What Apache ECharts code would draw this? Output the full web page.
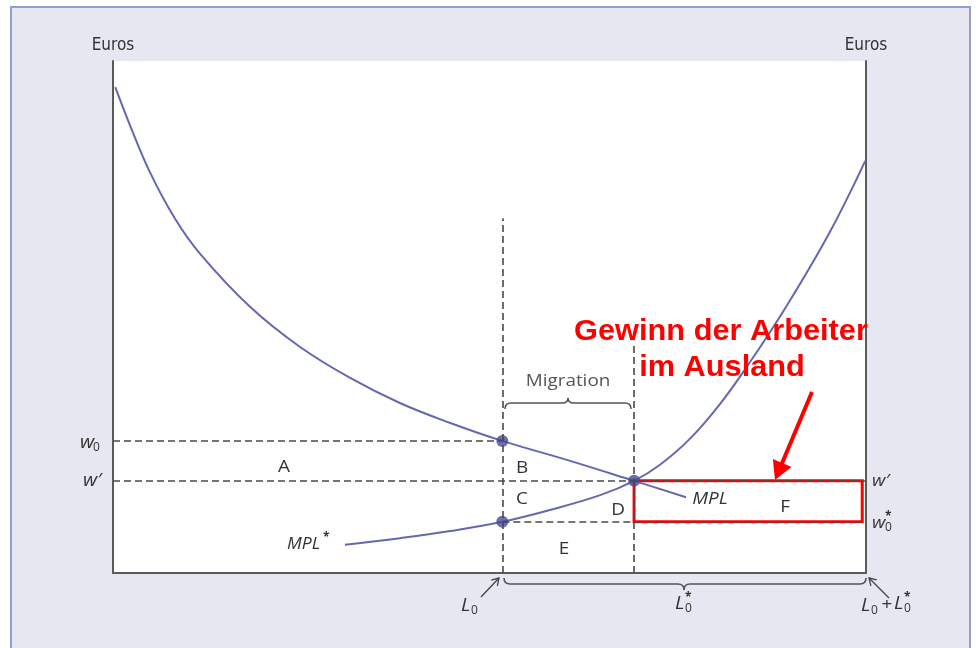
<!DOCTYPE html>
<html>
<head>
<meta charset="utf-8">
<script src="https://cdn.jsdelivr.net/npm/echarts@6/dist/echarts.min.js"></script>
<style>
html,body{margin:0;padding:0;background:#fff;}
#frame{position:absolute;left:10px;top:6px;width:957px;height:700px;background:#e7e7f2;border:2px solid #8f9fd1;}
#main{position:absolute;left:0;top:0;width:980px;height:648px;}
</style>
</head>
<body>
<div id="frame"></div>
<div id="main"></div>
<script>
// 横轴: 0 = 本国原点, 100 = L0 + L0*
var L0 = 51.7, L1 = 69.2;
var w0 = 25.8, wStar = 18.0, w0Foreign = 10.0;
var rectRight = 99.5;
// MPL (本国, 递减)
var mplX = [0.3, 2.3, 4.9, 8.2, 11.6, 18.2, 24.8, 31.5, 38.1, 44.8, 51.7, 60.7, 69.2, 76.1];
var mplY = [94.9, 87.3, 78.3, 69.3, 62.3, 52.0, 44.2, 38.1, 33.2, 29.3, 25.8, 21.9, 18.0, 14.8];
// MPL* (外国, 从右边看递减)
var mplFX = [30.8, 38.1, 44.8, 51.7, 58.0, 64.7, 69.2, 72.6, 76.6, 80.6, 84.6, 89.6, 95.2, 99.9];
var mplFY = [5.5, 6.8, 8.2, 10.0, 12.3, 15.2, 18.0, 21.1, 26.2, 33.0, 41.2, 52.5, 66.6, 80.5];

function pairs(xs, ys) {
	return xs.map(function(x, i) { return [x, ys[i]]; });
}

var chart = echarts.init(document.getElementById('main'));

var INK = '#333';
var FONT = '"Open Sans"';
var SX = 1.18; // 原图文字偏宽

// 普通文字
function txt(x, y, s, font, extra, sx) {
	return {
		type: 'text', x: x, y: y, silent: true, z: 20, scaleX: sx || SX,
		style: Object.assign({
			text: s, font: font || ('16px ' + FONT), fill: INK,
			align: 'center', verticalAlign: 'middle'
		}, extra || {})
	};
}
// 带上下标的符号, x 为左边
function sym(x, y, main, mw, sub, sup, size) {
	size = size || 17;
	var out = [txt(x, y, main, 'italic ' + size + 'px ' + FONT, {align: 'left'}, 1.1)];
	if (sub) out.push(txt(x + mw, y + 5, sub, '12px ' + FONT, {align: 'left'}, 1));
	if (sup) out.push(txt(x + mw, y - 6, sup, 'bold 12px ' + FONT, {align: 'left'}, 1));
	return out;
}
function seg(x1, y1, x2, y2, color, width) {
	return {type: 'line', silent: true, z: 20, shape: {x1: x1, y1: y1, x2: x2, y2: y2},
		style: {stroke: color, lineWidth: width}};
}
function curve(x1, y1, cx, cy, x2, y2, color, width) {
	return {type: 'bezierCurve', silent: true, z: 20,
		shape: {x1: x1, y1: y1, cpx1: cx, cpy1: cy, x2: x2, y2: y2},
		style: {stroke: color, lineWidth: width, fill: null}};
}
// 大括号: e = 两端方向, t = 中间尖方向
function brace(xa, xb, xm, yb, e, t) {
	var c = '#555', w = 1.6, r = 6;
	return [
		curve(xa, yb + e, xa, yb, xa + r, yb, c, w),
		seg(xa + r, yb, xm - r, yb, c, w),
		curve(xm - r, yb, xm, yb, xm, yb + t, c, w),
		curve(xm, yb + t, xm, yb, xm + r, yb, c, w),
		seg(xm + r, yb, xb - r, yb, c, w),
		curve(xb - r, yb, xb, yb, xb, yb + e, c, w)
	];
}
// 箭头
function arrow(x1, y1, x2, y2, color, width, head, filled) {
	var a = Math.atan2(y2 - y1, x2 - x1);
	var sp = filled ? 0.5 : 0.55;
	var p1 = [x2 - head * Math.cos(a - sp), y2 - head * Math.sin(a - sp)];
	var p2 = [x2 - head * Math.cos(a + sp), y2 - head * Math.sin(a + sp)];
	var out = [];
	if (filled) {
		var ex = x2 - head * 0.8 * Math.cos(a), ey = y2 - head * 0.8 * Math.sin(a);
		out.push(seg(x1, y1, ex, ey, color, width));
		out.push({type: 'polygon', silent: true, z: 20, shape: {points: [p1, [x2, y2], p2]},
			style: {fill: color}});
	} else {
		out.push(seg(x1, y1, x2, y2, color, width));
		out.push({type: 'polyline', silent: true, z: 20, shape: {points: [p1, [x2, y2], p2]},
			style: {stroke: color, lineWidth: width, fill: null}});
	}
	return out;
}

var axisStyle = {show: true, onZero: false, lineStyle: {color: '#5a5a5a', width: 2}};
var nameStyle = {color: INK, fontSize: 17, fontFamily: 'DejaVu Sans Condensed'};

var dash = {type: [7, 4], color: '#4a4a4a', width: 1.6};

var graphics = [].concat(
	// 字母区域
	txt(284, 467, 'A'), txt(522, 468, 'B'), txt(522, 499, 'C'),
	txt(618, 510, 'D'), txt(564, 549, 'E'), txt(785, 507, 'F'),
	txt(710, 499, 'MPL', 'italic 16px ' + FONT),
	txt(568, 381, 'Migration', '16px ' + FONT, {fill: '#555'}),
	sym(287, 544, 'MPL', 36, null, '*', 16),
	// 左侧工资
	sym(80, 443, 'w', 13, '0', null, 18),
	sym(83, 481, 'w\u2032', 17, null, null, 18),
	// 右侧工资
	sym(872, 481, 'w\u2032', 17, null, null),
	sym(872, 523, 'w', 13, '0', '*'),
	// 横轴下
	sym(461, 606, 'L', 10, '0', null, 18),
	sym(675, 604, 'L', 10, '0', '*', 18),
	sym(861, 606, 'L', 10, '0', null, 18),
	txt(887, 605, '+', '16px ' + FONT),
	sym(894, 604, 'L', 10, '0', '*', 18),
	// 大括号
	brace(505, 631, 568, 403, 6, -5),
	brace(504, 866, 684, 584, -6, 6),
	arrow(481, 597, 499, 578, '#444', 1.3, 8, false),
	arrow(889, 598, 869, 578, '#444', 1.3, 8, false),
	// 红色注释
	txt(721, 332, 'Gewinn der Arbeiter', 'bold 29px "Liberation Sans"', {fill: '#ff0000'}, 1.06),
	txt(722, 368, 'im Ausland', 'bold 29px "Liberation Sans"', {fill: '#ff0000'}, 1.06),
	arrow(812, 392, 775, 480, '#ff0000', 4, 21, true)
);

var option = {
	animation: false,
	grid: {left: 113, right: 114, top: 61, bottom: 75, show: true, backgroundColor: '#fff', borderWidth: 0},
	xAxis: {
		type: 'value', min: 0, max: 100,
		axisLine: axisStyle, axisTick: {show: false}, axisLabel: {show: false}, splitLine: {show: false}
	},
	yAxis: [{
		type: 'value', min: 0, max: 100, name: 'Euros', nameLocation: 'end', nameGap: 7,
		nameTextStyle: nameStyle,
		axisLine: axisStyle, axisTick: {show: false}, axisLabel: {show: false}, splitLine: {show: false}
	}, {
		type: 'value', min: 0, max: 100, position: 'right', name: 'Euros', nameLocation: 'end', nameGap: 7,
		nameTextStyle: nameStyle,
		axisLine: axisStyle, axisTick: {show: false}, axisLabel: {show: false}, splitLine: {show: false}
	}],
	series: [{
		// 虚线 + 红框
		type: 'line', data: [], z: 1, silent: true,
		markLine: {
			silent: true, symbol: ['none', 'none'], label: {show: false}, lineStyle: dash,
			data: [
				[{coord: [0, w0]}, {coord: [L0, w0]}],
				[{coord: [0, wStar]}, {coord: [100, wStar]}],
				[{coord: [L0, w0Foreign]}, {coord: [100, w0Foreign]}],
				[{coord: [L0, 0]}, {coord: [L0, 69.3]}],
				[{coord: [L1, 0]}, {coord: [L1, 45.1]}]
			]
		},
		markArea: {
			silent: true, label: {show: false},
			itemStyle: {color: 'rgba(0,0,0,0)', borderColor: '#ff0000', borderWidth: 3},
			data: [[{coord: [L1, wStar]}, {coord: [rectRight, w0Foreign]}]]
		}
	}, {
		name: 'MPL', type: 'line', data: pairs(mplX, mplY), smooth: 0.4, showSymbol: false, z: 3,
		lineStyle: {color: '#6567b2', width: 2}
	}, {
		name: 'MPL*', type: 'line', data: pairs(mplFX, mplFY), smooth: 0.4, showSymbol: false, z: 3,
		lineStyle: {color: '#6567b2', width: 2}
	}, {
		type: 'scatter', z: 4, symbolSize: 12,
		itemStyle: {color: '#46489a'},
		data: [[L0, w0], [L1, wStar], [L0, w0Foreign]]
	}],
	graphic: graphics
};

chart.setOption(option);
window.onresize = function() {
	chart.resize();
};
</script>
</body>
</html>
